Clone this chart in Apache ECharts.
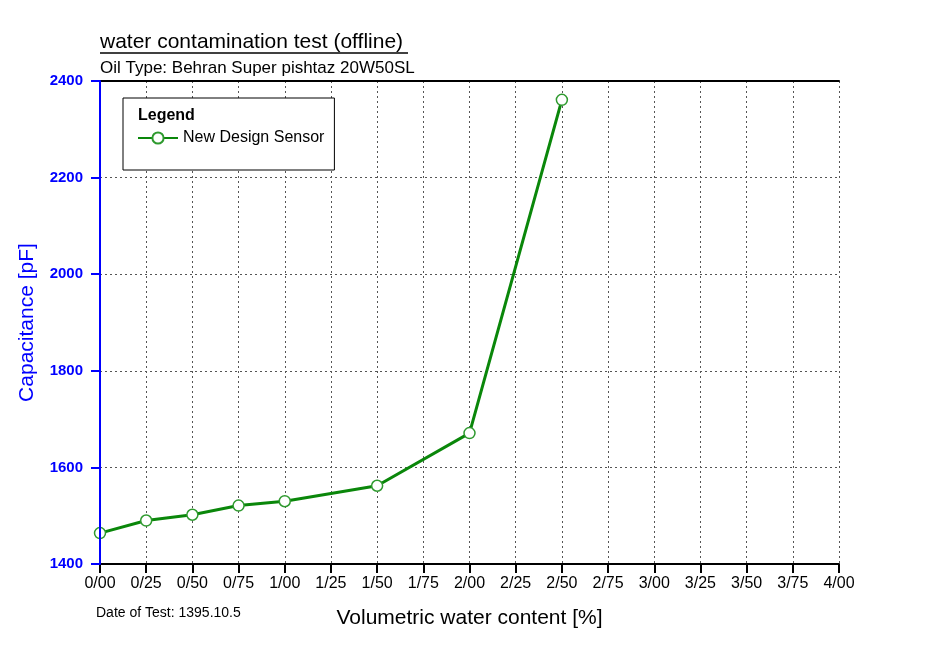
<!DOCTYPE html>
<html>
<head>
<meta charset="utf-8">
<title>water contamination test (offline)</title>
<script src="https://cdn.jsdelivr.net/npm/echarts@6/dist/echarts.min.js"></script>
<style>
  html, body { margin: 0; padding: 0; background: #ffffff; }
  #chart { width: 937px; height: 648px; }
</style>
</head>
<body>
<div id="chart"></div>
<script>
// Volumetric water content [%] and measured capacitance [pF]
const waterContent = [0, 0.25, 0.5, 0.75, 1.0, 1.5, 2.0, 2.5];
const capacitance = [1464, 1490, 1502, 1521, 1530, 1562, 1671, 2361];

// Tick labels for the water-content axis (slash used as decimal separator)
const xTickLabels = ['0/00', '0/25', '0/50', '0/75', '1/00', '1/25', '1/50', '1/75',
  '2/00', '2/25', '2/50', '2/75', '3/00', '3/25', '3/50', '3/75', '4/00'];
const xStep = 0.25;

const chartTitle = 'water contamination test (offline)';
const chartSubtitle = 'Oil Type: Behran Super pishtaz 20W50SL';
const testDate = 'Date of Test: 1395.10.5';
const seriesName = 'New Design Sensor';

const GREEN = '#0a870a';
const BLUE = '#0000ff';
const FONT = '"Liberation Sans", Arial, sans-serif';

const points = waterContent.map((x, i) => [x, capacitance[i]]);

const chart = echarts.init(document.getElementById('chart'), null, { renderer: 'canvas' });

const gridLine = { show: true, lineStyle: { color: '#555', width: 1, type: [2, 3] } };

chart.setOption({
  backgroundColor: '#ffffff',
  animation: false,
  title: [
    {
      text: chartTitle, left: 100, top: 32, padding: 0,
      textStyle: { fontFamily: FONT, fontSize: 21, fontWeight: 'normal', color: '#000' }
    },
    {
      text: chartSubtitle, left: 100, top: 60, padding: 0,
      textStyle: { fontFamily: FONT, fontSize: 17, fontWeight: 'normal', color: '#000' }
    },
    {
      text: testDate, left: 96, top: 606, padding: 0,
      textStyle: { fontFamily: FONT, fontSize: 14, fontWeight: 'normal', color: '#000' }
    },
    {
      text: 'Legend', left: 138, top: 108, padding: 0, z: 20,
      textStyle: { fontFamily: FONT, fontSize: 16, fontWeight: 'bold', color: '#000' }
    }
  ],
  graphic: [
    {
      // underline beneath the main title
      type: 'line', z: 10,
      shape: { x1: 100, y1: 53, x2: 408, y2: 53 },
      style: { stroke: '#000', lineWidth: 1.5 }
    }
  ],
  legend: {
    data: [seriesName],
    left: 123, top: 98,
    padding: [32, 10, 24, 14],
    itemWidth: 40, itemHeight: 14, itemGap: 5,
    backgroundColor: '#ffffff',
    borderColor: '#000', borderWidth: 1,
    z: 15,
    textStyle: { fontFamily: FONT, fontSize: 16, color: '#000' }
  },
  grid: { left: 100, right: 98, top: 81, bottom: 84, containLabel: false },
  xAxis: [
    {
      type: 'value', position: 'bottom', min: 0, max: 4, interval: xStep,
      name: 'Volumetric water content [%]', nameLocation: 'middle', nameGap: 44,
      nameTextStyle: { fontFamily: FONT, fontSize: 21, color: '#000' },
      axisLine: { show: true, onZero: false, lineStyle: { color: '#000', width: 2 } },
      axisTick: { show: true, inside: false, length: 9, lineStyle: { color: '#000', width: 2 } },
      axisLabel: {
        margin: 12, fontFamily: FONT, fontSize: 16, color: '#000',
        formatter: v => xTickLabels[Math.round(v / xStep)]
      },
      splitLine: gridLine, z: 1
    },
    {
      type: 'value', position: 'top', min: 0, max: 4, interval: xStep,
      axisLine: { show: true, onZero: false, lineStyle: { color: '#000', width: 2 } },
      axisTick: { show: false }, axisLabel: { show: false }, splitLine: { show: false }, z: 5
    }
  ],
  yAxis: [
    {
      type: 'value', position: 'left', min: 1400, max: 2400, interval: 200,
      axisLine: { show: false }, axisTick: { show: false }, axisLabel: { show: false },
      splitLine: gridLine, z: 1
    },
    {
      type: 'value', position: 'left', min: 1400, max: 2400, interval: 200,
      name: 'Capacitance [pF]', nameLocation: 'middle', nameGap: 62,
      nameTextStyle: { fontFamily: FONT, fontSize: 21, color: BLUE },
      axisLine: { show: true, onZero: false, lineStyle: { color: BLUE, width: 2 } },
      axisTick: { show: true, inside: false, length: 9, lineStyle: { color: BLUE, width: 2 } },
      axisLabel: {
        margin: 17, fontFamily: FONT, fontSize: 15, fontWeight: 'bold', color: BLUE,
        formatter: v => String(v)
      },
      splitLine: { show: false }, zlevel: 1, z: 10
    }
  ],
  series: [
    {
      name: seriesName, type: 'line', xAxisIndex: 0, yAxisIndex: 0,
      data: points,
      clip: false,
      symbol: 'circle', symbolSize: 11,
      lineStyle: { color: GREEN, width: 3 },
      itemStyle: { color: '#ffffff', borderColor: '#2f9a2f', borderWidth: 1.5 },
      z: 3
    }
  ]
});
</script>
</body>
</html>
